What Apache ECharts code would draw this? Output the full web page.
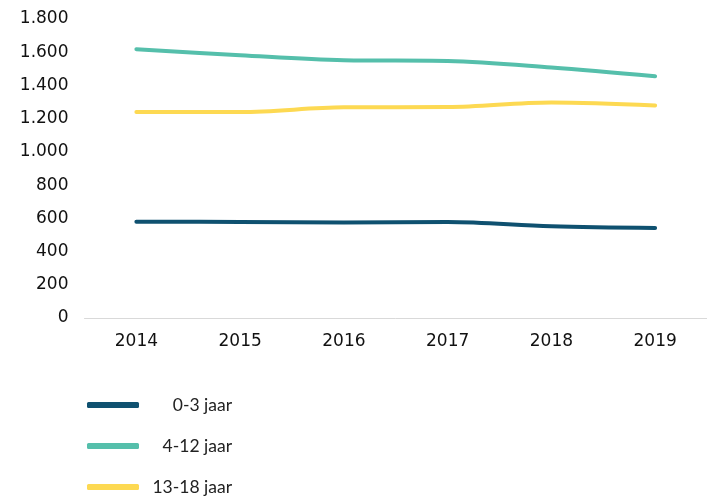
<!DOCTYPE html>
<html><head><meta charset="utf-8">
<script src="https://cdn.jsdelivr.net/npm/echarts@6/dist/echarts.min.js"></script>
<style>html,body{margin:0;padding:0;background:#fff}#c{width:707px;height:497px}</style>
</head><body><div id="c"></div>
<script>
const categories = ['2014','2015','2016','2017','2018','2019'];
const seriesNames = ['0-3 jaar','4-12 jaar','13-18 jaar'];
const v0_3 = [580, 578, 575, 578, 552, 542];
const v4_12 = [1618, 1582, 1552, 1547, 1508, 1455];
const v13_18 = [1240, 1240, 1268, 1270, 1298, 1280];
const yTicks = [0,200,400,600,800,1000,1200,1400,1600,1800];
const colors = ['#0f5170', '#55bfab', '#fdd952'];

const chart = echarts.init(document.getElementById('c'));
const fmt = v => v >= 1000 ? String(v).replace(/(\d)(\d{3})$/, '$1.$2') : String(v);
const mk = (name, data, i) => ({
  name, type: 'line', data, smooth: 0.35, symbol: 'none',
  lineStyle: { width: 4, color: colors[i], cap: 'round', join: 'round' },
  itemStyle: { color: colors[i] }
});
chart.setOption({
  animation: false,
  grid: { left: 84.5, top: 19, width: 630, height: 299, containLabel: false },
  xAxis: {
    type: 'category', data: categories, boundaryGap: true,
    axisLine: { lineStyle: { color: '#d9d9d9', width: 1 } },
    axisTick: { show: false },
    axisLabel: { color: '#111', fontFamily: 'DejaVu Sans', fontSize: 17, margin: 15 }
  },
  yAxis: {
    type: 'value', min: yTicks[0], max: yTicks[yTicks.length-1], interval: 200,
    splitLine: { show: false }, axisLine: { show: false }, axisTick: { show: false },
    axisLabel: { color: '#111', fontFamily: 'DejaVu Sans', fontSize: 17, margin: 16, formatter: fmt }
  },
  legend: {
    orient: 'vertical', left: 82, top: 391, height: 110, itemGap: 23,
    itemWidth: 52, itemHeight: 6, icon: 'roundRect',
    data: seriesNames,
    formatter: '{a|{name}}',
    textStyle: { color: '#222', fontFamily: 'Lato', fontSize: 17.5,
      rich: { a: { width: 88, align: 'right', fontFamily: 'Lato', fontSize: 17.5, color: '#222' } } }
  },
  series: [mk(seriesNames[0], v0_3, 0), mk(seriesNames[1], v4_12, 1), mk(seriesNames[2], v13_18, 2)]
});
</script></body></html>
